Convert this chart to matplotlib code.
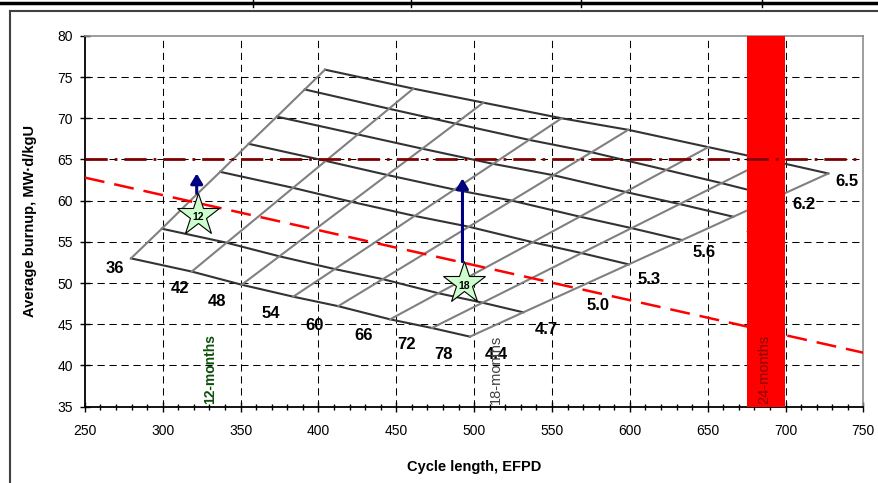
import matplotlib.pyplot as plt
from matplotlib.lines import Line2D

plt.rcParams['font.family'] = ['Liberation Sans', 'DejaVu Sans']

# carpet data: rows = enrichment, columns = number of feed assemblies
batches = [36, 42, 48, 54, 60, 66, 72, 78]
enrich = ["4.4", "4.7", "5.0", "5.3", "5.6", "5.9", "6.2", "6.5"]

efpd = [
    [279.6, 318.6, 350.7, 383.8, 412.7, 446.0, 472.9, 497.3],
    [299.4, 341.0, 374.9, 410.5, 441.3, 477.0, 505.4, 531.6],
    [318.2, 362.5, 398.3, 436.4, 469.2, 507.6, 537.6, 565.9],
    [336.9, 383.7, 421.3, 461.8, 496.6, 537.6, 569.0, 599.3],
    [355.2, 404.7, 444.2, 487.3, 524.2, 567.9, 601.1, 633.6],
    [373.3, 425.3, 466.7, 512.2, 551.0, 597.2, 632.0, 666.5],
    [391.2, 445.3, 488.0, 535.3, 575.4, 623.3, 658.9, 694.3],
    [404.2, 460.9, 505.9, 556.2, 599.0, 650.4, 688.7, 727.5],
]
burnup = [
    [53.0, 51.4, 49.8, 48.35, 47.2, 45.6, 44.55, 43.5],
    [56.6, 54.9, 53.25, 51.7, 50.48, 48.77, 47.62, 46.45],
    [60.1, 58.24, 56.58, 54.95, 53.69, 51.9, 50.66, 49.4],
    [63.5, 61.56, 59.86, 58.15, 56.84, 54.96, 53.64, 52.27],
    [66.9, 64.83, 63.12, 61.35, 60.01, 58.06, 56.67, 55.22],
    [70.2, 68.04, 66.31, 64.47, 63.09, 61.06, 59.59, 58.05],
    [73.5, 71.16, 69.35, 67.38, 65.88, 63.73, 62.13, 60.45],
    [75.9, 73.6, 71.9, 70.0, 68.6, 66.5, 64.95, 63.3],
]

# label anchor points for the carpet
batch_lbl_x = [269.3, 311.1, 335.0, 369.3, 397.3, 428.8, 456.7, 480.2]
batch_lbl_y = [51.8, 49.4, 47.75, 46.3, 44.9, 43.6, 42.5, 41.3]
enr_lbl_x = [514.5, 546.1, 579.7, 612.5, 647.6, 681.7, 711.9, 739.3]
enr_lbl_y = [41.3, 44.4, 47.3, 50.45, 53.7, 56.5, 59.5, 62.3]

# 5% enrichment limit line and burnup limit
limit_x = [250, 750]
limit_y = [62.8, 41.55]
bu_limit = 65

# current cycles (stars) and arrows
star_x = [322.8, 493.5]
star_y = [58.3, 50.0]
star_lbl = ["12", "18"]
arrow_base = [60.9, 52.6]
arrow_tip = [63.3, 62.7]

months_x = [330.5, 513.8, 686.4]
months_lbl = ["12-months", "18-months", "24-months"]
bar_x = [675, 699.5]

fig = plt.figure(figsize=(8.79, 4.83), dpi=100)
ax = fig.add_axes([0.0966, 0.158, 0.8856, 0.7677])
ax.set_xlim(250, 750)
ax.set_ylim(35, 80)

# grid (interior only)
for gx in range(300, 750, 50):
    ax.axvline(gx, color='black', lw=0.75, linestyle=(0, (7, 4.5)), zorder=1)
for gy in range(40, 80, 5):
    ax.axhline(gy, color='black', lw=0.75, linestyle=(0, (7, 4.5)), zorder=1)

# carpet: constant enrichment (dark) and constant batch size (gray)
for k in range(len(enrich)):
    if enrich[k] == "5.0":
        continue
    ax.plot(efpd[k], burnup[k], color='#333333', lw=1.5, zorder=2)
for j in range(len(batches)):
    ax.plot([row[j] for row in efpd], [row[j] for row in burnup],
            color='#808080', lw=1.5, zorder=2)

for j in range(len(batches)):
    ax.text(batch_lbl_x[j], batch_lbl_y[j], str(batches[j]), fontsize=12,
            fontweight='bold', ha='center', va='center', zorder=3)
for k in range(len(enrich)):
    ax.text(enr_lbl_x[k], enr_lbl_y[k], enrich[k], fontsize=12,
            fontweight='bold', ha='center', va='center', zorder=3)

ax.plot(limit_x, limit_y, color='#ff0000', lw=1.8, linestyle=(0, (8, 4)), zorder=3)

ax.axvspan(bar_x[0], bar_x[1], color='#ff0000', lw=0, zorder=4)
ax.axhline(bu_limit, color='#800000', lw=2, linestyle=(0, (8, 2.5, 1, 2.5)), zorder=5)

# months labels
ax.text(months_x[0], 35.3, months_lbl[0], rotation=90, color='#0b4f0b', fontsize=10,
        fontweight='bold', ha='center', va='bottom', zorder=5)
ax.text(months_x[1], 35.3, months_lbl[1], rotation=90, color='#404040', fontsize=10.5,
        ha='center', va='bottom', zorder=5)
ax.text(months_x[2], 35.3, months_lbl[2], rotation=90, color='#8b0000', fontsize=10.5,
        ha='center', va='bottom', zorder=5)

for i in range(len(star_x)):
    ax.annotate('', xy=(star_x[i] - 1, arrow_tip[i]), xytext=(star_x[i] - 1, arrow_base[i]),
                arrowprops=dict(arrowstyle='-|>,head_width=0.36,head_length=0.6',
                                color='#000080', lw=2.2, shrinkA=0, shrinkB=0,
                                mutation_scale=10), zorder=6)
    ax.plot(star_x[i], star_y[i], marker='*', ms=32, mfc='#ccffcc', mec='black',
            mew=0.8, linestyle='none', zorder=7)
    ax.text(star_x[i], star_y[i] - 0.3, star_lbl[i], fontsize=7.5, fontweight='bold',
            ha='center', va='center', zorder=8)

# axes styling
ax.set_xticks(range(250, 751, 50))
ax.set_xticks(range(250, 751, 10), minor=True)
ax.set_yticks(range(35, 81, 5))
ax.tick_params(axis='x', which='major', direction='inout', length=7, width=1,
               labelsize=10, pad=9)
ax.tick_params(axis='x', which='minor', direction='inout', length=5, width=1)
ax.tick_params(axis='y', which='major', direction='inout', length=7, width=1,
               labelsize=10, pad=5)
for s in ['left', 'bottom']:
    ax.spines[s].set_color('black')
    ax.spines[s].set_linewidth(1.3)
for s in ['top', 'right']:
    ax.spines[s].set_color('#8c8c8c')
    ax.spines[s].set_linewidth(1.2)

ax.set_xlabel("Cycle length, EFPD", fontsize=10.5, fontweight='bold')
ax.xaxis.set_label_coords(0.5, -0.144)
ax.set_ylabel("Average burnup, MW·d/kgU", fontsize=10.5, fontweight='bold')
ax.yaxis.set_label_coords(-0.0615, 0.5)

# page decorations around the chart
W, H = 879, 483
fig.add_artist(Line2D([0, 1], [1 - 3 / H, 1 - 3 / H], color='black', lw=2.5))
for tx in [253, 411, 581, 762]:
    fig.add_artist(Line2D([tx / W, tx / W], [1, 1 - 7 / H], color='black', lw=1))
fig.add_artist(Line2D([10 / W, 1], [1 - 11 / H, 1 - 11 / H], color='#404040', lw=1.5))
fig.add_artist(Line2D([10 / W, 10 / W], [0, 1 - 11 / H], color='#404040', lw=1.5))

fig.savefig('out.png', dpi=100)
